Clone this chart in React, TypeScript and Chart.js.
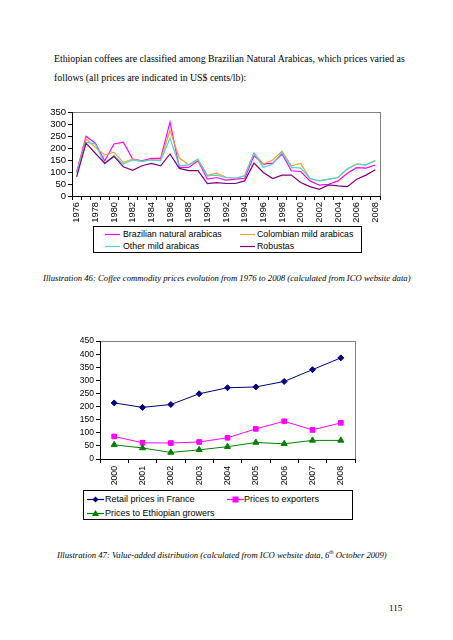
import React, { useEffect, useRef } from 'react';
import { Chart, registerables } from 'chart.js';
Chart.register(...registerables);

// ---------- Chart 1 data (US cents/lb) ----------
const years = ['1976','1977','1978','1979','1980','1981','1982','1983','1984','1985','1986','1987','1988','1989','1990','1991','1992','1993','1994','1995','1996','1997','1998','1999','2000','2001','2002','2003','2004','2005','2006','2007','2008'];
const brazilianNaturals = [100,249,220,147,217,224,154,147,157,157,308,119,119,147,70,77,66,70,74,168,133,137,175,105,102,63,45,49,63,95,118,116,129];
const colombianMilds = [95,238,203,171,182,140,154,143,152,150,273,158,130,150,86,95,78,74,84,180,133,150,187,126,136,73,63,70,77,114,133,130,148];
const otherMilds = [95,224,217,133,168,133,150,144,150,147,241,126,130,154,84,87,77,74,84,179,119,133,182,119,116,73,63,70,77,112,133,130,147];
const robustas = [80,220,178,137,165,122,107,126,136,126,175,115,106,106,52,56,52,52,63,137,98,73,87,87,56,39,28,46,42,39,70,87,109];

// ---------- Chart 2 data ----------
const years2 = ['2000','2001','2002','2003','2004','2005','2006','2007','2008'];
const retailFrance = [214,197,208,249,272,275,296,341,386];
const pricesExporters = [86,62,61,65,81,115,144,111,138];
const pricesGrowers = [54,42,25,35,47,63,58,71,71];

const SANS = '"Liberation Sans", Arial, sans-serif';
const SERIF = '"Liberation Serif", "Times New Roman", serif';

const C_BRA = '#FF00FF';
const C_COL = '#F8A028';
const C_OTH = '#40D8D8';
const C_ROB = '#800080';
const C_RET = '#000080';
const C_EXP = '#FF00FF';
const C_GRO = '#008000';

function plotBorder(color: string) {
  return {
    id: 'plotBorder',
    beforeDraw(chart: any) {
      const { ctx, chartArea: a } = chart;
      ctx.save();
      ctx.strokeStyle = color;
      ctx.lineWidth = 1;
      ctx.strokeRect(Math.round(a.left) + 0.5, Math.round(a.top) + 0.5, Math.round(a.right - a.left), Math.round(a.bottom - a.top));
      ctx.restore();
    },
  };
}

function ChartOne() {
  const ref = useRef<HTMLCanvasElement>(null);
  useEffect(() => {
    const chart = new Chart(ref.current!, {
      type: 'line',
      data: {
        labels: years,
        datasets: [
          { label: 'Brazilian natural arabicas', data: brazilianNaturals, borderColor: C_BRA, borderWidth: 1.2, order: 4 },
          { label: 'Colombian mild arabicas', data: colombianMilds, borderColor: C_COL, borderWidth: 1.2, order: 3 },
          { label: 'Other mild arabicas', data: otherMilds, borderColor: C_OTH, borderWidth: 1.2, order: 2 },
          { label: 'Robustas', data: robustas, borderColor: C_ROB, borderWidth: 1.2, order: 1 },
        ],
      },
      options: {
        responsive: false,
        animation: false,
        devicePixelRatio: 1,
        layout: { padding: { top: 8, right: 40, left: 0, bottom: 0 } },
        plugins: { legend: { display: false }, tooltip: { enabled: false } },
        elements: { point: { radius: 0 }, line: { tension: 0 } },
        scales: {
          x: {
            type: 'category',
            offset: true,
            grid: { display: true, offset: true, drawOnChartArea: false, drawTicks: true, tickLength: 4, color: '#000' },
            border: { display: true, color: '#000' },
            ticks: {
              autoSkip: false, maxRotation: 90, minRotation: 90, padding: 2, color: '#000',
              font: { family: SANS, size: 9.3 },
              callback: (_v: any, i: number) => (i % 2 === 0 ? years[i] : ''),
            },
            afterFit: (s: any) => { s.height = 30; },
          },
          y: {
            min: 0, max: 350,
            grid: { display: true, drawOnChartArea: false, drawTicks: true, tickLength: 4, color: '#000' },
            border: { display: true, color: '#000' },
            ticks: { stepSize: 50, autoSkip: false, padding: 2, color: '#000', font: { family: SANS, size: 9.5 } },
            afterFit: (s: any) => { s.width = 52; },
          },
        },
      } as any,
      plugins: [plotBorder('#808080')],
    });
    return () => chart.destroy();
  }, []);
  return <canvas ref={ref} width={400} height={122} style={{ position: 'absolute', left: 20, top: 104, width: 400, height: 122 }} />;
}

function ChartTwo() {
  const ref = useRef<HTMLCanvasElement>(null);
  useEffect(() => {
    const chart = new Chart(ref.current!, {
      type: 'line',
      data: {
        labels: years2,
        datasets: [
          { label: 'Retail prices in France', data: retailFrance, borderColor: C_RET, backgroundColor: C_RET, borderWidth: 1, pointStyle: 'rectRot', pointRadius: 3, order: 3 },
          { label: 'Prices to exporters', data: pricesExporters, borderColor: C_EXP, backgroundColor: C_EXP, borderWidth: 1, pointStyle: 'rect', pointRadius: 3.3, order: 2 },
          { label: 'Prices to Ethiopian growers', data: pricesGrowers, borderColor: C_GRO, backgroundColor: C_GRO, borderWidth: 1, pointStyle: 'triangle', pointRadius: 3.5, order: 1 },
        ],
      },
      options: {
        responsive: false,
        animation: false,
        devicePixelRatio: 1,
        layout: { padding: { top: 6, right: 25, left: 0, bottom: 0 } },
        plugins: { legend: { display: false }, tooltip: { enabled: false } },
        elements: { line: { tension: 0 }, point: { borderWidth: 1 } },
        scales: {
          x: {
            type: 'category',
            offset: true,
            grid: { display: true, offset: true, drawOnChartArea: false, drawTicks: true, tickLength: 4, color: '#000' },
            border: { display: true, color: '#000' },
            ticks: { autoSkip: false, maxRotation: 90, minRotation: 90, padding: 3, color: '#000', font: { family: SANS, size: 8.7 } },
            afterFit: (s: any) => { s.height = 31; },
          },
          y: {
            min: 0, max: 450,
            grid: { display: true, drawOnChartArea: false, drawTicks: true, tickLength: 4, color: '#000' },
            border: { display: true, color: '#000' },
            ticks: { stepSize: 50, autoSkip: false, padding: 2, color: '#000', font: { family: SANS, size: 8.5 } },
            afterFit: (s: any) => { s.width = 40; },
          },
        },
      } as any,
      plugins: [plotBorder('#808080')],
    });
    return () => chart.destroy();
  }, []);
  return <canvas ref={ref} width={320} height={156} style={{ position: 'absolute', left: 60, top: 334, width: 320, height: 156 }} />;
}

function LineSym({ color, x, y, w, marker }: { color: string; x: number; y: number; w: number; marker?: string }) {
  const h = 9;
  const cx = w / 2;
  const cy = h / 2;
  let m: any = null;
  if (marker === 'diamond') m = <polygon points={`${cx},${cy - 3} ${cx + 3},${cy} ${cx},${cy + 3} ${cx - 3},${cy}`} fill={color} />;
  if (marker === 'square') m = <rect x={cx - 3} y={cy - 3} width={6} height={6} fill={color} />;
  if (marker === 'triangle') m = <polygon points={`${cx},${cy - 3.5} ${cx + 3.5},${cy + 2.5} ${cx - 3.5},${cy + 2.5}`} fill={color} />;
  return (
    <svg width={w} height={h} style={{ position: 'absolute', left: x, top: y - h / 2 }}>
      <line x1={0} y1={cy} x2={w} y2={cy} stroke={color} strokeWidth={1.2} />
      {m}
    </svg>
  );
}

function LegendText({ text, x, y, size }: { text: string; x: number; y: number; size: number }) {
  return (
    <div style={{ position: 'absolute', left: x, top: y - 7, height: 14, lineHeight: '14px', fontFamily: SANS, fontSize: size, color: '#000', whiteSpace: 'nowrap' }}>{text}</div>
  );
}

function Legend1() {
  return (
    <div style={{ position: 'absolute', left: 93, top: 226, width: 269, height: 27, border: '1px solid #000', boxSizing: 'border-box' }}>
      <LineSym color={C_BRA} x={11} y={7} w={15} />
      <LegendText text="Brazilian natural arabicas" x={29} y={7} size={8.8} />
      <LineSym color={C_COL} x={146} y={7} w={15} />
      <LegendText text="Colombian mild arabicas" x={163} y={7} size={8.8} />
      <LineSym color={C_OTH} x={11} y={19} w={15} />
      <LegendText text="Other mild arabicas" x={29} y={19} size={8.8} />
      <LineSym color={C_ROB} x={146} y={19} w={15} />
      <LegendText text="Robustas" x={163} y={19} size={8.8} />
    </div>
  );
}

function Legend2() {
  return (
    <div style={{ position: 'absolute', left: 83, top: 490, width: 270, height: 30, border: '1px solid #000', boxSizing: 'border-box' }}>
      <LineSym color={C_RET} x={3} y={8} w={17} marker="diamond" />
      <LegendText text="Retail prices in France" x={21} y={8} size={9} />
      <LineSym color={C_EXP} x={143} y={8} w={17} marker="square" />
      <LegendText text="Prices to exporters" x={160} y={8} size={9} />
      <LineSym color={C_GRO} x={3} y={22} w={17} marker="triangle" />
      <LegendText text="Prices to Ethiopian growers" x={21} y={22} size={9} />
    </div>
  );
}

function JustLine({ text, left, width, top, size, italic, justify, children }: any) {
  return (
    <div style={{
      position: 'absolute', left, top, width, height: 14, lineHeight: '14px',
      fontFamily: SERIF, fontSize: size, fontStyle: italic ? 'italic' : 'normal', color: '#000',
      textAlign: justify ? 'justify' : 'left', textAlignLast: justify ? 'justify' : 'left', whiteSpace: 'nowrap', overflow: 'visible',
    } as any}>{children ?? text}</div>
  );
}

export default function App() {
  return (
    <div style={{ position: 'absolute', left: 0, top: 0, width: 453, height: 640, background: '#fff', overflow: 'hidden' }}>
      <JustLine left={54} width={345} top={52} size={9.8} justify text="Ethiopian coffees are classified among Brazilian Natural Arabicas, which prices varied as" />
      <JustLine left={54} width={345} top={71} size={9.8} text="follows (all prices are indicated in US$ cents/lb):" />
      <ChartOne />
      <Legend1 />
      <JustLine left={43} width={359} top={271} size={8.7} italic justify text="Illustration 46: Coffee commodity prices evolution from 1976 to 2008 (calculated from ICO website data)" />
      <ChartTwo />
      <Legend2 />
      <JustLine left={57} width={321} top={548} size={8.7} italic justify>
        Illustration 47: Value-added distribution (calculated from ICO website data, 6<sup style={{ fontSize: 5.5, verticalAlign: 'super', lineHeight: 0 }}>th</sup> October 2009)
      </JustLine>
      <JustLine left={389} width={20} top={601} size={9} text="115" />
    </div>
  );
}
